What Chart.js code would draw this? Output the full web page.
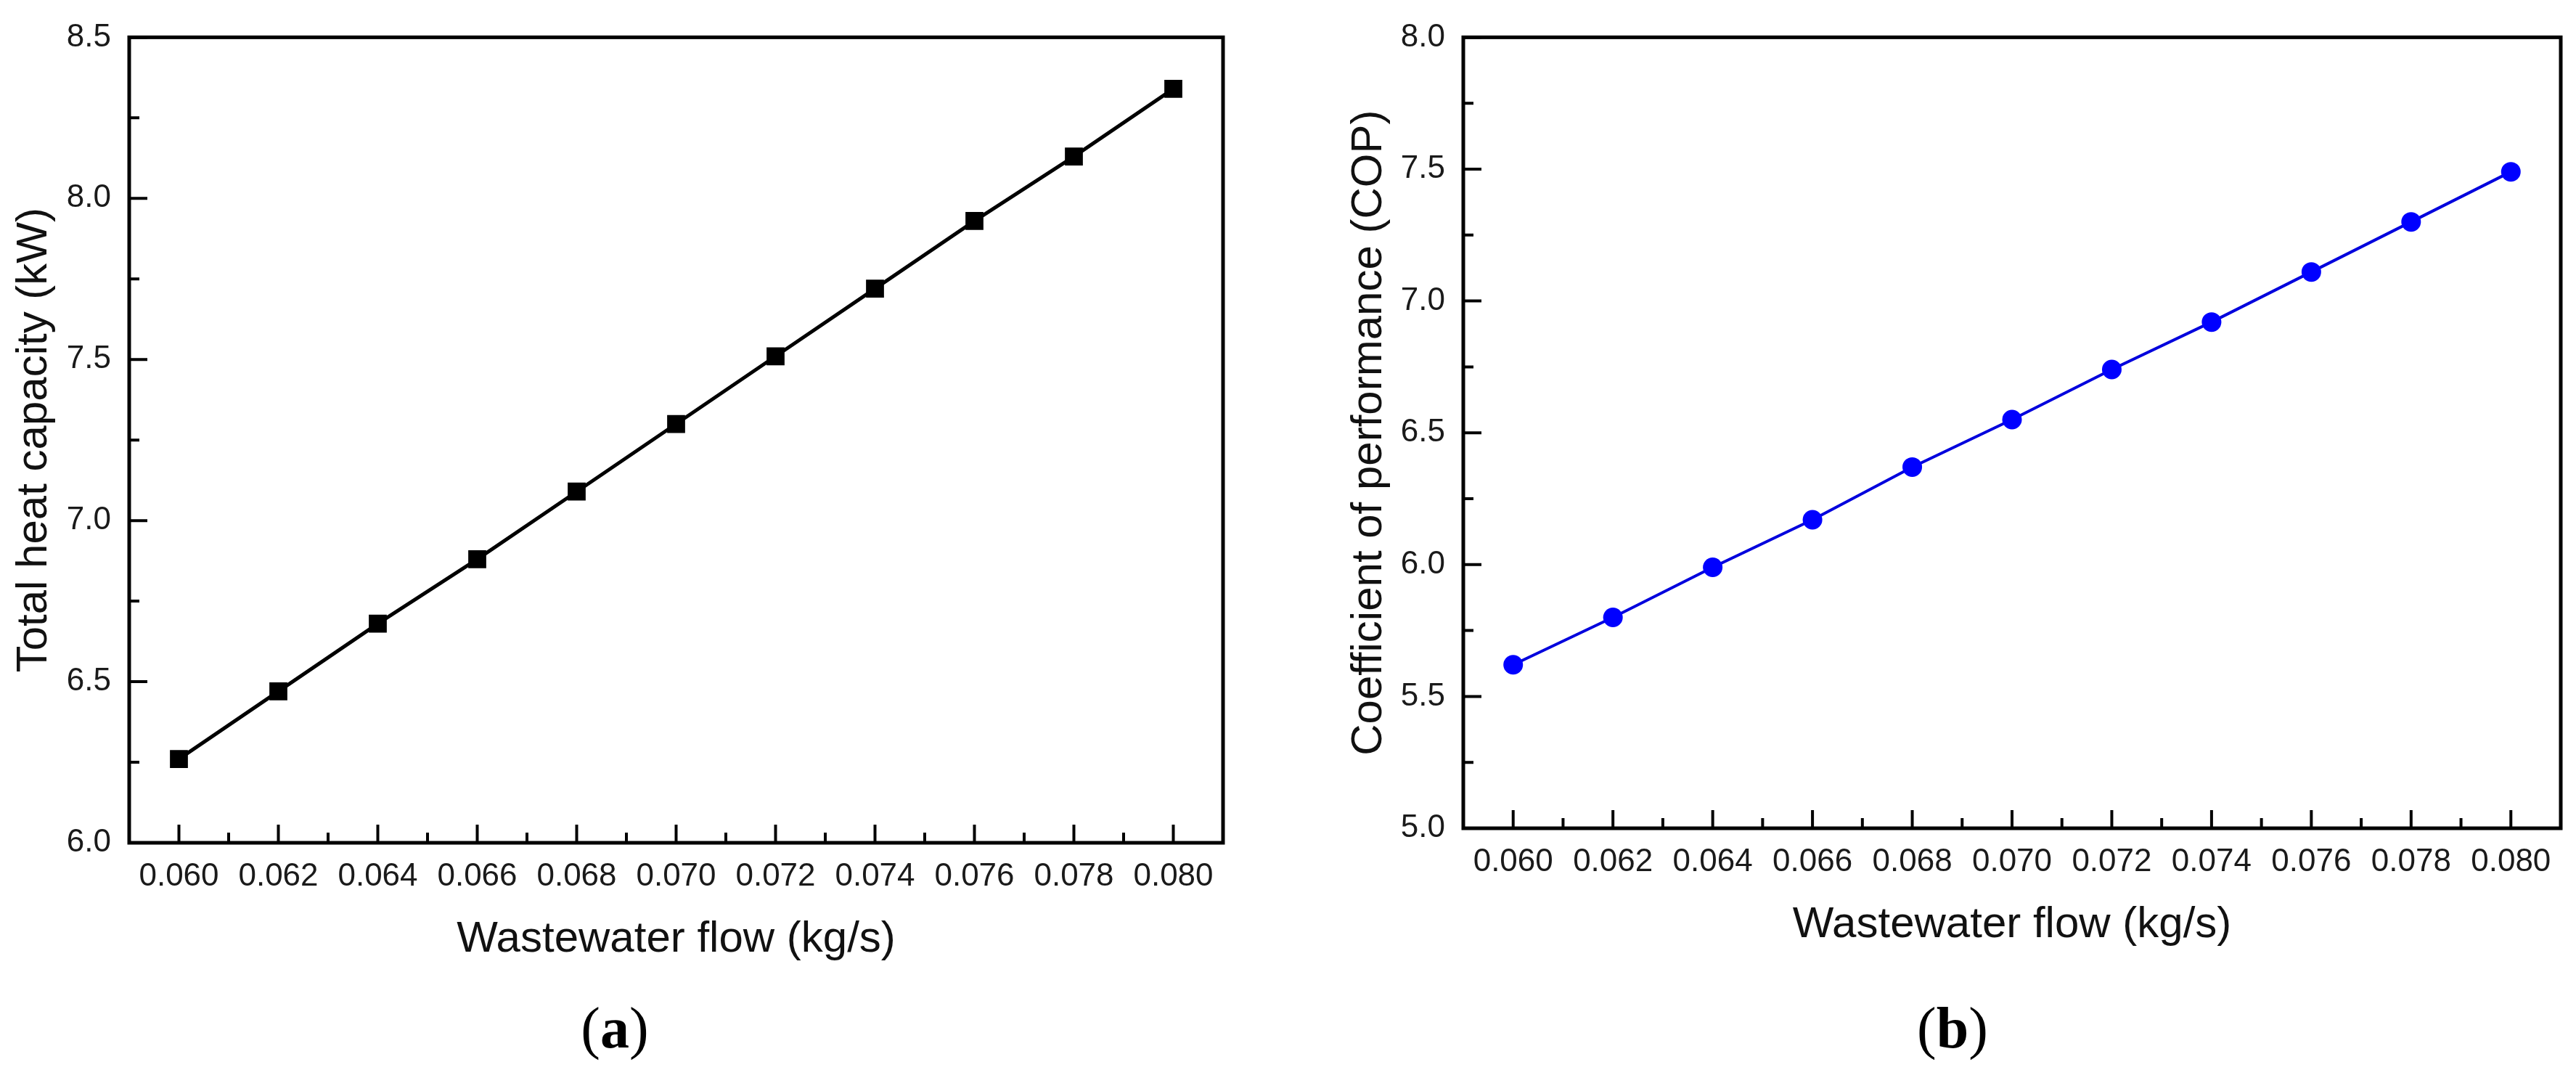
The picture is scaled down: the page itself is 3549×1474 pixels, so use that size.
<!DOCTYPE html>
<html>
<head>
<meta charset="utf-8">
<script src="https://cdn.jsdelivr.net/npm/chart.js@4.4.1/dist/chart.umd.min.js"></script>
<style>
  body { margin: 0; background: #fff; width: 3549px; height: 1474px; overflow: hidden; position: relative; }
  .box { position: absolute; top: 0; height: 1474px; }
  #boxA { left: 0; width: 1774px; }
  #boxB { left: 1774px; width: 1775px; }
  .tag { position: absolute; top: 1376px; line-height: 1; font-family: "Liberation Serif", "Times New Roman", serif; font-size: 80px; color: #000; transform: translateX(-50%); }
</style>
</head>
<body>
<div class="box" id="boxA"><canvas id="heatChart"></canvas></div>
<div class="box" id="boxB"><canvas id="copChart"></canvas></div>
<div class="tag" style="left:847px">(<b>a</b>)</div>
<div class="tag" style="left:2690px">(<b>b</b>)</div>
<script>
// values
const flow = [0.060, 0.062, 0.064, 0.066, 0.068, 0.070, 0.072, 0.074, 0.076, 0.078, 0.080];
const heatCapacity = [6.26, 6.47, 6.68, 6.88, 7.09, 7.30, 7.51, 7.72, 7.93, 8.13, 8.34];
const cop = [5.62, 5.80, 5.99, 6.17, 6.37, 6.55, 6.74, 6.92, 7.11, 7.30, 7.49];

const flowTicks = [0.060, 0.062, 0.064, 0.066, 0.068, 0.070, 0.072, 0.074, 0.076, 0.078, 0.080];
const heatTicks = [6.0, 6.5, 7.0, 7.5, 8.0, 8.5];
const copTicks = [5.0, 5.5, 6.0, 6.5, 7.0, 7.5, 8.0];

const xTitle = 'Wastewater flow (kg/s)';
const heatTitle = 'Total heat capacity (kW)';
const copTitle = 'Coefficient of performance (COP)';

Chart.defaults.font.family = '"Liberation Sans", Arial, sans-serif';
Chart.defaults.color = '#1a1a1a';

const midpoints = arr => arr.slice(1).map((v, i) => (v + arr[i]) / 2);

// box round the plot plus inward major/minor ticks
const frame = {
  id: 'frame',
  afterDatasetsDraw(chart, args, opts) {
    const {ctx, chartArea: a, scales: {x, y}} = chart;
    ctx.save();
    ctx.strokeStyle = '#000';
    ctx.lineWidth = 4;
    ctx.beginPath();
    flowTicks.forEach(v => {
      const px = x.getPixelForValue(v);
      ctx.moveTo(px, a.bottom); ctx.lineTo(px, a.bottom - 25);
    });
    midpoints(flowTicks).forEach(v => {
      const px = x.getPixelForValue(v);
      ctx.moveTo(px, a.bottom); ctx.lineTo(px, a.bottom - 14);
    });
    opts.yTicks.forEach(v => {
      const py = y.getPixelForValue(v);
      ctx.moveTo(a.left, py); ctx.lineTo(a.left + 25, py);
    });
    midpoints(opts.yTicks).forEach(v => {
      const py = y.getPixelForValue(v);
      ctx.moveTo(a.left, py); ctx.lineTo(a.left + 14, py);
    });
    ctx.stroke();
    ctx.lineWidth = 5;
    ctx.strokeRect(a.left, a.top, a.right - a.left, a.bottom - a.top);
    ctx.restore();
  }
};

const makeChart = (id, values, yTicks, yLabel, yWidth, yTitlePad, pad, style) => new Chart(document.getElementById(id), {
  type: 'line',
  data: {
    datasets: [{
      data: flow.map((f, i) => ({x: f, y: values[i]})),
      borderColor: style.line,
      borderWidth: style.width,
      pointStyle: style.point,
      pointRadius: style.radius,
      pointBackgroundColor: style.fill,
      pointBorderWidth: 0,
      tension: 0
    }]
  },
  options: {
    responsive: true,
    maintainAspectRatio: false,
    animation: false,
    layout: {padding: pad},
    plugins: {
      legend: {display: false},
      tooltip: {enabled: false},
      frame: {yTicks: yTicks}
    },
    scales: {
      x: {
        type: 'linear',
        min: 0.059,
        max: 0.081,
        grid: {display: false, drawTicks: false},
        border: {display: false},
        afterBuildTicks: s => { s.ticks = flowTicks.map(v => ({value: v})); },
        afterFit: s => { s.height = 200; },
        ticks: {
          padding: 20,
          font: {size: 44},
          maxRotation: 0,
          autoSkip: false,
          callback: v => v.toFixed(3)
        },
        title: {display: true, text: xTitle, font: {size: 60, lineHeight: 1.2}, padding: {bottom: 31}, color: '#111'}
      },
      y: {
        min: yTicks[0],
        max: yTicks[yTicks.length - 1],
        grid: {display: false, drawTicks: false},
        border: {display: false},
        afterBuildTicks: s => { s.ticks = yTicks.map(v => ({value: v})); },
        afterFit: s => { s.width = yWidth; },
        ticks: {
          padding: 25,
          font: {size: 44},
          callback: v => v.toFixed(1)
        },
        title: {display: true, text: yLabel, font: {size: 60, lineHeight: 1.2}, padding: {top: yTitlePad}, color: '#111'}
      }
    }
  },
  plugins: [frame]
});

makeChart('heatChart', heatCapacity, heatTicks, heatTitle, 178, 11,
  {top: 50, right: 89, bottom: 113, left: 0},
  {line: '#000', width: 5, point: 'rect', radius: 17.5, fill: '#000'});

makeChart('copChart', cop, copTicks, copTitle, 242, 76,
  {top: 30, right: 21, bottom: 133, left: 0},
  {line: '#0000dd', width: 4, point: 'circle', radius: 13.5, fill: '#0000ff'});
</script>
</body>
</html>
